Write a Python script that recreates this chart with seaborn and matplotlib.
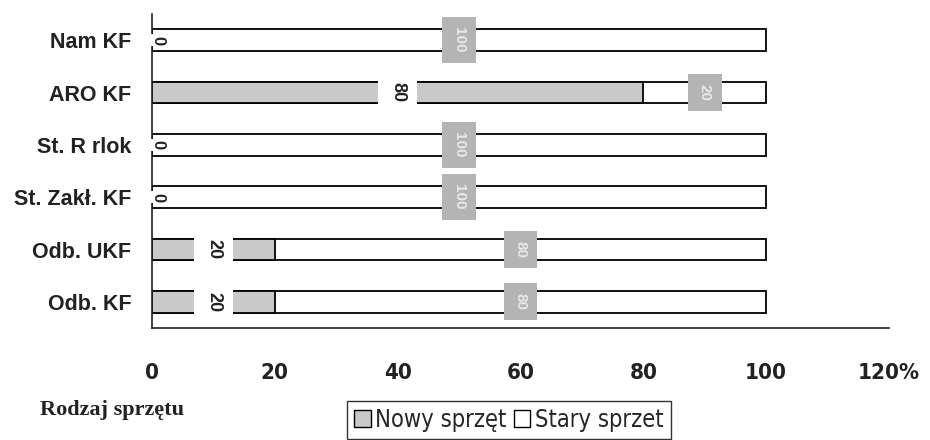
import seaborn as sns
import pandas as pd
import matplotlib.pyplot as plt
from matplotlib.patches import Patch

# values (percent of equipment)
categories = ['Nam KF', 'ARO KF', 'St. R rlok', 'St. Zakł. KF', 'Odb. UKF', 'Odb. KF']
nowy = [0, 80, 0, 0, 20, 20]
stary = [100, 20, 100, 100, 80, 80]
xticks = [0, 20, 40, 60, 80, 100, 120]
xtick_labels = ['0', '20', '40', '60', '80', '100', '120%']

df = pd.DataFrame({'kat': categories, 'nowy': nowy, 'stary': stary})
df['razem'] = df['nowy'] + df['stary']

sns.set_style('white')
plt.rcParams['font.family'] = ['Liberation Sans', 'DejaVu Sans']
narrow = ['Liberation Sans Narrow', 'DejaVu Sans', 'Liberation Sans']

fig = plt.figure(figsize=(9.3, 4.4), dpi=100)
ax = fig.add_axes([152 / 930, 112 / 440, 737 / 930, 314 / 440])

# stacked: full bar (white, stary) first, then nowy on top
sns.barplot(data=df, x='razem', y='kat', orient='h', color='white',
            edgecolor='black', linewidth=1.3, width=0.42, ax=ax)
sns.barplot(data=df, x='nowy', y='kat', orient='h', color='#c9c9c9',
            edgecolor='black', linewidth=1.3, width=0.42, ax=ax)

# data labels
for i, row in df.iterrows():
    if row['nowy'] > 0:
        ax.text(row['nowy'] / 2, i, str(row['nowy']),
                rotation=-90, ha='center', va='center', fontsize=13,
                fontweight='bold', color='#222222',
                bbox=dict(boxstyle='square,pad=0.6', fc='white', ec='none'))
    else:
        ax.text(0.9, i, '0', rotation=-90, ha='center', va='center',
                fontsize=12, fontweight='bold', color='#222222',
                bbox=dict(boxstyle='square,pad=0.1', fc='white', ec='none'))
    ax.text(row['nowy'] + row['stary'] / 2, i, str(row['stary']),
            rotation=-90, ha='center', va='center', fontsize=11,
            fontweight='bold', color='#e8e8e8',
            bbox=dict(boxstyle='square,pad=0.65', fc='#b4b4b4', ec='none'))

ax.set_xlim(0, 120)
ax.set_ylim(5.5, -0.5)
ax.set_xticks(xticks)
ax.set_xticklabels(xtick_labels, fontsize=16, fontweight='bold', family=narrow,
                   fontstretch='condensed', color='#222222')
ax.set_yticks(range(len(categories)))
ax.set_yticklabels(categories, fontsize=15.5, fontweight='bold', color='#222222')
ax.tick_params(axis='x', direction='out', length=5, width=1, color='#333333', pad=20)
ax.tick_params(axis='y', length=0, pad=15)
ax.set_xlabel('')
ax.set_ylabel('')
for s in ['top', 'right']:
    ax.spines[s].set_visible(False)
for s in ['left', 'bottom']:
    ax.spines[s].set_color('#222222')
    ax.spines[s].set_linewidth(1.2)

fig.text(40 / 930, 1 - 410 / 440, 'Rodzaj sprzętu', fontsize=16,
         fontweight='bold', family=['Liberation Serif', 'DejaVu Serif'],
         va='center', ha='left', color='#222222')

handles = [Patch(fc='#c9c9c9', ec='black', label='Nowy sprzęt'),
           Patch(fc='white', ec='black', label='Stary sprzet')]
leg = fig.legend(handles=handles, loc='center', bbox_to_anchor=(509 / 930, 1 - 420 / 440),
                 ncol=2, frameon=True, fancybox=False, edgecolor='black',
                 handlelength=0.7, handleheight=0.7, handletextpad=0.2,
                 columnspacing=0.3, borderpad=0.3,
                 prop={'family': narrow, 'size': 17, 'stretch': 'condensed'})
leg.get_frame().set_linewidth(1.0)

fig.savefig('out.png', dpi=100)
